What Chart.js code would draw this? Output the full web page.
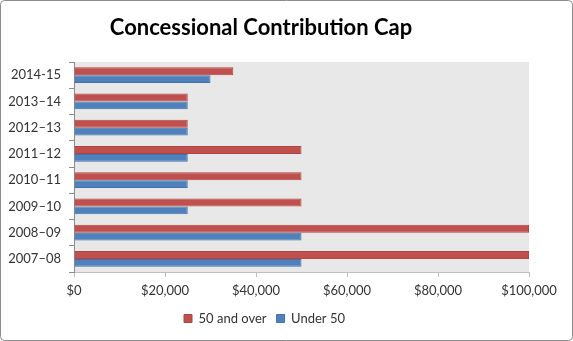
<!DOCTYPE html>
<html>
<head>
<meta charset="utf-8">
<script src="https://cdn.jsdelivr.net/npm/chart.js@4"></script>
<style>
  html, body { margin: 0; padding: 0; background: #fff; }
  #wrap { width: 573px; height: 341px; position: relative; }
</style>
</head>
<body>
<div id="wrap"><canvas id="capChart" width="573" height="341"></canvas></div>
<script>
const chartTitle = 'Concessional Contribution Cap';
const years = ['2014-15', '2013–14', '2012–13', '2011–12', '2010–11', '2009–10', '2008–09', '2007–08'];
const over50 = [35000, 25000, 25000, 50000, 50000, 50000, 100000, 100000];
const under50 = [30000, 25000, 25000, 25000, 25000, 25000, 50000, 50000];
const xTicks = [0, 20000, 40000, 60000, 80000, 100000];

const fontFamily = 'Lato, "Open Sans", sans-serif';

// grey plot area + frame + title
const decor = {
  id: 'decor',
  beforeDraw(chart) {
    const c = chart.ctx, a = chart.chartArea;
    c.save();
    c.fillStyle = '#fff';
    c.fillRect(0, 0, chart.width, chart.height);
    c.fillStyle = '#e8e8e8';
    c.fillRect(a.left, a.top, a.right - a.left, a.bottom - a.top);
    c.restore();
  },
  afterDraw(chart) {
    const c = chart.ctx;
    c.save();
    c.strokeStyle = '#8c8c8c';
    c.lineWidth = 1;
    c.beginPath();
    c.roundRect(0.5, 0.5, chart.width - 1, chart.height - 1, 4);
    c.stroke();
    c.fillStyle = '#000';
    c.font = 'bold 22px ' + fontFamily;
    c.textAlign = 'center';
    c.textBaseline = 'middle';
    c.fillText(chartTitle, 261, 28);
    c.restore();
  }
};

const ctx = document.getElementById('capChart').getContext('2d');
new Chart(ctx, {
  type: 'bar',
  data: {
    labels: years,
    datasets: [
      {
        label: '50 and over',
        data: over50,
        backgroundColor: '#c0504d',
        borderColor: '#b04542',
        borderWidth: 1
      },
      {
        label: 'Under 50',
        data: under50,
        backgroundColor: '#4f81bd',
        borderColor: '#4371a8',
        borderWidth: 1
      }
    ]
  },
  options: {
    indexAxis: 'y',
    responsive: false,
    animation: false,
    layout: { padding: { top: 62, right: 44, left: 0, bottom: 6 } },
    datasets: { bar: { categoryPercentage: 0.6, barPercentage: 1.0 } },
    plugins: {
      legend: {
        position: 'bottom',
        labels: {
          boxWidth: 8,
          boxHeight: 8,
          padding: 10,
          color: '#333',
          font: { family: fontFamily, size: 13 }
        }
      },
      tooltip: { enabled: false }
    },
    scales: {
      x: {
        min: 0,
        max: 100000,
        afterBuildTicks(scale) {
          scale.ticks = xTicks.map(v => ({ value: v }));
        },
        afterFit(scale) { scale.height = 30; },
        grid: { drawOnChartArea: false, tickLength: 5, color: '#bfbfbf' },
        border: { color: '#bfbfbf' },
        ticks: {
          color: '#333',
          padding: 6,
          font: { family: fontFamily, size: 13 },
          callback: v => '$' + v.toLocaleString('en-US')
        }
      },
      y: {
        afterFit(scale) { scale.width = 74; },
        grid: { drawOnChartArea: false, tickLength: 5, color: '#8c8c8c' },
        border: { color: '#8c8c8c' },
        ticks: {
          color: '#333',
          padding: 8,
          font: { family: fontFamily, size: 13 }
        }
      }
    }
  },
  plugins: [decor]
});
</script>
</body>
</html>
